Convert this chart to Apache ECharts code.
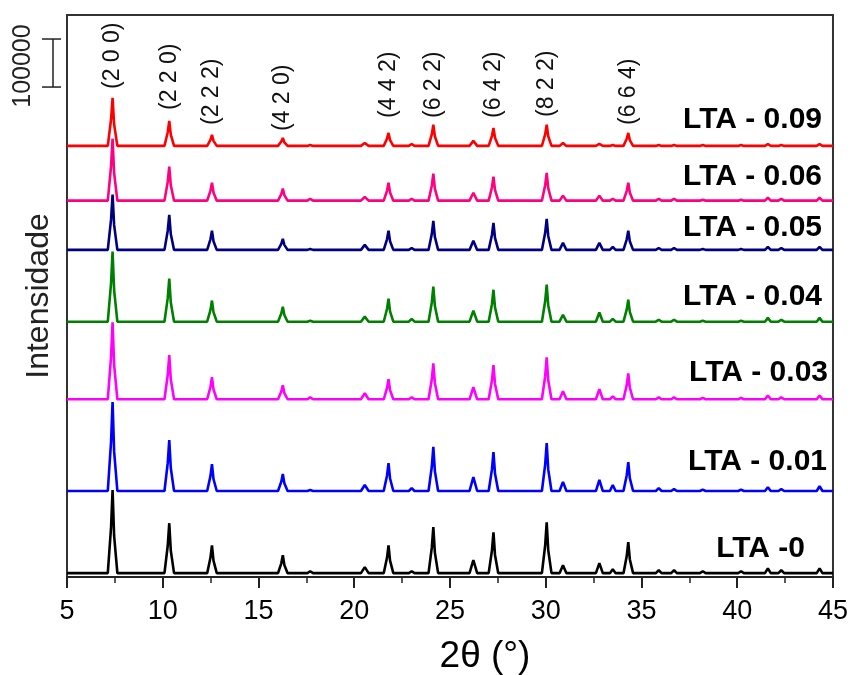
<!DOCTYPE html>
<html lang="pt">
  <head>
    <meta charset="UTF-8" />
    <title>DRX LTA</title>
    <script src="https://cdn.jsdelivr.net/npm/echarts@6.0.0/dist/echarts.min.js"></script>
    <style>
      html, body { margin: 0; padding: 0; background: #fff; }
      #chart { width: 851px; height: 675px; }
    </style>
  </head>
  <body>
    <div id="chart"></div>
  </body>
</html>
<script>
  // 2θ positions (degrees) shared by every pattern
  const twoTheta = [5.0,
    7.13, 7.30, 7.38, 7.46, 7.63,
    10.09, 10.26, 10.34, 10.42, 10.59,
    12.32, 12.49, 12.57, 12.65, 12.82,
    16.02, 16.19, 16.27, 16.35, 16.52,
    17.55, 17.7, 17.85,
    20.35, 20.55, 20.75,
    21.54, 21.71, 21.79, 21.87, 22.04,
    22.85, 23.0, 23.15,
    23.88, 24.05, 24.13, 24.21, 24.38,
    26.02, 26.22, 26.42,
    27.02, 27.19, 27.27, 27.35, 27.52,
    29.80, 29.97, 30.05, 30.13, 30.30,
    30.72, 30.9, 31.08,
    32.62, 32.8, 32.98,
    33.35, 33.5, 33.65,
    34.06, 34.23, 34.31, 34.39, 34.56,
    35.75, 35.9, 36.05,
    36.55, 36.7, 36.85,
    38.05, 38.2, 38.35,
    40.05, 40.2, 40.35,
    41.45, 41.6, 41.75,
    42.15, 42.3, 42.45,
    44.15, 44.3, 44.45,
    45.0];

  // intensities (counts) above each pattern's own baseline
  const lta0 = [0,
    0, 95000, 173000, 78000, 0,
    0, 57000, 104000, 47000, 0,
    0, 32000, 58000, 26000, 0,
    0, 20500, 37500, 17000, 0,
    0, 4000, 0,
    0, 12500, 0,
    0, 32000, 58000, 26000, 0,
    0, 4000, 0,
    0, 53000, 96000, 43000, 0,
    0, 27000, 0,
    0, 47000, 85000, 38000, 0,
    0, 58000, 106000, 48000, 0,
    0, 16500, 0,
    0, 21000, 0,
    0, 8000, 0,
    0, 35500, 64500, 29000, 0,
    0, 6000, 0,
    0, 6000, 0,
    0, 4000, 0,
    0, 4000, 0,
    0, 10000, 0,
    0, 6000, 0,
    0, 10000, 0,
    0];
  const lta001 = [0,
    0, 102000, 185000, 83000, 0,
    0, 58000, 106000, 48000, 0,
    0, 31000, 56000, 25000, 0,
    0, 19500, 35500, 16000, 0,
    0, 2000, 0,
    0, 12500, 0,
    0, 32000, 58000, 26000, 0,
    0, 6000, 0,
    0, 50500, 92000, 41500, 0,
    0, 29000, 0,
    0, 44500, 81000, 36500, 0,
    0, 55000, 100000, 45000, 0,
    0, 19000, 0,
    0, 23000, 0,
    0, 12500, 0,
    0, 33000, 60000, 27000, 0,
    0, 6000, 0,
    0, 4000, 0,
    0, 3000, 0,
    0, 3000, 0,
    0, 8000, 0,
    0, 4000, 0,
    0, 10000, 0,
    0];
  const lta003 = [0,
    0, 88000, 160000, 72000, 0,
    0, 50500, 92000, 41500, 0,
    0, 25500, 46000, 20500, 0,
    0, 16000, 29000, 13000, 0,
    0, 4000, 0,
    0, 12500, 0,
    0, 23000, 42000, 19000, 0,
    0, 4000, 0,
    0, 41000, 75000, 34000, 0,
    0, 25000, 0,
    0, 39000, 71000, 32000, 0,
    0, 48000, 87500, 39500, 0,
    0, 16500, 0,
    0, 21000, 0,
    0, 6000, 0,
    0, 29500, 54000, 24500, 0,
    0, 4000, 0,
    0, 4000, 0,
    0, 3000, 0,
    0, 3000, 0,
    0, 8000, 0,
    0, 4000, 0,
    0, 8000, 0,
    0];
  const lta004 = [0,
    0, 80000, 146000, 66000, 0,
    0, 49000, 89500, 40000, 0,
    0, 24000, 44000, 20000, 0,
    0, 17000, 31000, 14000, 0,
    0, 2000, 0,
    0, 10500, 0,
    0, 26500, 48000, 21500, 0,
    0, 6000, 0,
    0, 40000, 73000, 33000, 0,
    0, 23000, 0,
    0, 36500, 66500, 30000, 0,
    0, 42500, 77000, 34500, 0,
    0, 14500, 0,
    0, 19000, 0,
    0, 6000, 0,
    0, 25500, 46000, 20500, 0,
    0, 4000, 0,
    0, 4000, 0,
    0, 2000, 0,
    0, 2000, 0,
    0, 8000, 0,
    0, 4000, 0,
    0, 8000, 0,
    0];
  const lta005 = [0,
    0, 63000, 115000, 52000, 0,
    0, 40000, 73000, 33000, 0,
    0, 22000, 40000, 18000, 0,
    0, 12500, 23000, 10500, 0,
    0, 2000, 0,
    0, 10500, 0,
    0, 22000, 40000, 18000, 0,
    0, 4000, 0,
    0, 33000, 60500, 27000, 0,
    0, 19000, 0,
    0, 31000, 56000, 25000, 0,
    0, 35500, 64500, 29000, 0,
    0, 14500, 0,
    0, 14500, 0,
    0, 6000, 0,
    0, 22000, 40000, 18000, 0,
    0, 4000, 0,
    0, 4000, 0,
    0, 2000, 0,
    0, 2000, 0,
    0, 6000, 0,
    0, 4000, 0,
    0, 6000, 0,
    0];
  const lta006 = [0,
    0, 71000, 129000, 58000, 0,
    0, 39000, 71000, 32000, 0,
    0, 20500, 37500, 17000, 0,
    0, 13500, 25000, 11500, 0,
    0, 4000, 0,
    0, 8000, 0,
    0, 20500, 37500, 17000, 0,
    0, 4000, 0,
    0, 31000, 56000, 25000, 0,
    0, 16500, 0,
    0, 27500, 50000, 22500, 0,
    0, 32000, 58000, 26000, 0,
    0, 10500, 0,
    0, 10500, 0,
    0, 4000, 0,
    0, 20500, 37500, 17000, 0,
    0, 4000, 0,
    0, 4000, 0,
    0, 2000, 0,
    0, 2000, 0,
    0, 6000, 0,
    0, 4000, 0,
    0, 6000, 0,
    0];
  const lta009 = [0,
    0, 55000, 100000, 45000, 0,
    0, 28500, 52000, 23500, 0,
    0, 12500, 23000, 10500, 0,
    0, 9000, 16500, 7500, 0,
    0, 2000, 0,
    0, 6000, 0,
    0, 15000, 27000, 12000, 0,
    0, 4000, 0,
    0, 24000, 44000, 20000, 0,
    0, 10500, 0,
    0, 20500, 37500, 17000, 0,
    0, 24000, 44000, 20000, 0,
    0, 6000, 0,
    0, 4000, 0,
    0, 2000, 0,
    0, 15000, 27000, 12000, 0,
    0, 2000, 0,
    0, 2000, 0,
    0, 2000, 0,
    0, 2000, 0,
    0, 4000, 0,
    0, 2000, 0,
    0, 4000, 0,
    0];

  const sampleNames = ["LTA -0", "LTA - 0.01", "LTA - 0.03", "LTA - 0.04", "LTA - 0.05", "LTA - 0.06", "LTA - 0.09"];
  const offsets = [8000, 179000, 370000, 531500, 681000, 783500, 897500]; // vertical stacking
  const hklNames = ["(2 0 0)", "(2 2 0)", "(2 2 2)", "(4 2 0)", "(4 4 2)", "(6 2 2)", "(6 4 2)", "(8 2 2)", "(6 6 4)"];
  const hklPos = [7.38, 10.34, 12.57, 16.27, 21.79, 24.13, 27.27, 30.05, 34.31];
  const xTicks = [5, 10, 15, 20, 25, 30, 35, 40, 45];
  const scaleBar = 100000;

  const patterns = [lta0, lta001, lta003, lta004, lta005, lta006, lta009];
  const colors = ["#000000", "#0000ff", "#ff00ff", "#008000", "#000080", "#ff0080", "#ff0000"];
  // where each sample name sits (right edge, middle), pixels
  const nameSpots = [[805, 549], [827, 462], [828, 373], [822, 297], [822, 228], [822, 177], [822, 120]];
  // bottom end of each rotated hkl label, pixels
  const hklBottom = [89, 110, 125, 131, 118, 118, 118, 117, 125];

  const font = "Liberation Sans, Arial, sans-serif";
  const chart = echarts.init(document.getElementById("chart"));

  chart.setOption({
    animation: false,
    grid: { left: 67, right: 18, top: 15, bottom: 98, show: true, borderColor: "#333", borderWidth: 2 },
    xAxis: {
      type: "value",
      min: xTicks[0],
      max: xTicks[xTicks.length - 1],
      interval: 5,
      axisLine: { lineStyle: { color: "#222", width: 2 } },
      axisTick: { length: 11, lineStyle: { color: "#222", width: 2 } },
      minorTick: { show: true, splitNumber: 2, length: 6, lineStyle: { color: "#222", width: 1.5 } },
      axisLabel: { fontSize: 27, color: "#000", margin: 21, fontFamily: font },
      splitLine: { show: false },
    },
    yAxis: {
      type: "value",
      min: 0,
      max: 1170000,
      name: "Intensidade",
      nameLocation: "middle",
      nameGap: 12,
      nameTextStyle: { fontSize: 32, color: "#222", fontFamily: font },
      axisLine: { show: true, lineStyle: { color: "#333", width: 2 } },
      axisTick: { show: false },
      axisLabel: { show: false },
      splitLine: { show: false },
    },
    series: patterns.map((p, i) => ({
      name: sampleNames[i],
      type: "line",
      showSymbol: false,
      silent: true,
      lineStyle: { color: colors[i], width: 2.6 },
      itemStyle: { color: colors[i] },
      data: twoTheta.map((t, j) => [t, p[j] + offsets[i]]),
    })),
  });

  // annotations: axis title, scale bar, hkl indices, sample names
  const barTop = chart.convertToPixel({ yAxisIndex: 0 }, 1120000);
  const barBot = chart.convertToPixel({ yAxisIndex: 0 }, 1120000 - scaleBar);
  const barStyle = { stroke: "#222", lineWidth: 1.5 };
  const graphic = [
    {
      type: "text", x: 485, y: 657,
      style: { text: "2θ (°)", font: "37px " + font, fill: "#000", align: "center", verticalAlign: "middle" },
    },
    { type: "line", shape: { x1: 53, y1: barTop, x2: 53, y2: barBot }, style: barStyle },
    { type: "line", shape: { x1: 42, y1: barTop, x2: 61, y2: barTop }, style: barStyle },
    { type: "line", shape: { x1: 42, y1: barBot, x2: 61, y2: barBot }, style: barStyle },
    {
      type: "text", x: 23, y: (barTop + barBot) / 2 + 3, rotation: Math.PI / 2,
      style: { text: String(scaleBar), font: "25px " + font, fill: "#222", align: "center", verticalAlign: "middle" },
    },
  ];
  hklNames.forEach((h, i) => {
    graphic.push({
      type: "text",
      x: chart.convertToPixel({ xAxisIndex: 0 }, hklPos[i]),
      y: hklBottom[i],
      rotation: Math.PI / 2,
      style: { text: h, font: "23px " + font, fill: "#111", align: "left", verticalAlign: "middle" },
    });
  });
  sampleNames.forEach((n, i) => {
    graphic.push({
      type: "text",
      x: nameSpots[i][0],
      y: nameSpots[i][1],
      style: { text: n, font: "bold 30px " + font, fill: "#000", align: "right", verticalAlign: "middle" },
    });
  });
  chart.setOption({ graphic });
</script>
